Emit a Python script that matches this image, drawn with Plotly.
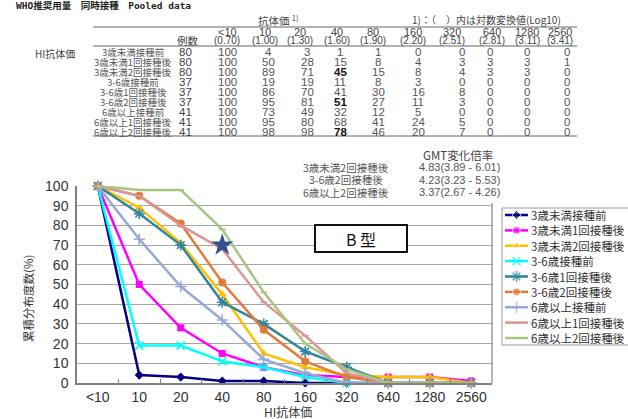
import plotly.graph_objects as go

# ---------------- data ----------------
categories = ["<10", "10", "20", "40", "80", "160", "320", "640", "1280", "2560"]
log_labels = ["(0.70)", "(1.00)", "(1.30)", "(1.60)", "(1.90)", "(2.20)", "(2.51)", "(2.81)", "(3.11)", "(3.41)"]
groups = ["3歳未満接種前", "3歳未満1回接種後", "3歳未満2回接種後",
          "3-6歳接種前", "3-6歳1回接種後", "3-6歳2回接種後",
          "6歳以上接種前", "6歳以上1回接種後", "6歳以上2回接種後"]
n_cases = [80, 80, 80, 37, 37, 37, 41, 41, 41]

u3_pre = [100, 4, 3, 1, 1, 0, 0, 0, 0, 0]
u3_1st = [100, 50, 28, 15, 8, 4, 3, 3, 3, 1]
u3_2nd = [100, 89, 71, 45, 15, 8, 4, 3, 3, 0]
a36_pre = [100, 19, 19, 11, 8, 3, 0, 0, 0, 0]
a36_1st = [100, 86, 70, 41, 30, 16, 8, 0, 0, 0]
a36_2nd = [100, 95, 81, 51, 27, 11, 3, 0, 0, 0]
o6_pre = [100, 73, 49, 32, 12, 5, 0, 0, 0, 0]
o6_1st = [100, 95, 80, 68, 41, 24, 5, 0, 0, 0]
o6_2nd = [100, 98, 98, 78, 46, 20, 7, 0, 0, 0]
series_values = [u3_pre, u3_1st, u3_2nd, a36_pre, a36_1st, a36_2nd, o6_pre, o6_1st, o6_2nd]

star_x = ["40"]
star_y = [70]

gmt_groups = ["3歳未満2回接種後", "3-6歳2回接種後", "6歳以上2回接種後"]
gmt_values = ["4.83(3.89 - 6.01)", "4.23(3.23 - 5.53)", "3.37(2.67 - 4.26)"]

# ---------------- styles ----------------
styles = [
    dict(color="#000080", symbol="diamond", size=7),
    dict(color="#FF00FF", symbol="square", size=7),
    dict(color="#FFC000", symbol="triangle-up", size=8),
    dict(color="#00FFFF", symbol="x-thin-open", size=8),
    dict(color="#31859C", symbol="asterisk-open", size=9),
    dict(color="#E07B39", symbol="circle", size=8),
    dict(color="#95A8D8", symbol="cross-thin-open", size=8),
    dict(color="#D99694", symbol="line-ew-open", size=5),
    dict(color="#A9C47F", symbol="line-ew-open", size=5),
]
bold_cells = {(2, 3), (5, 3), (8, 3)}  # (row, titer column index)

W, H = 628, 419
L, R, T, B = 77, 0, 186, 36
PW, PH = W - L - R, H - T - B


def PX(x):
    return (x - L) / PW


def PY(y):
    return (H - B - y) / PH


FONT = "Liberation Sans, Arial, Noto Sans CJK JP"
CJK = "Noto Sans CJK JP, Liberation Sans"

fig = go.Figure()

for name, vals, st in zip(groups, series_values, styles):
    mk = dict(color=st["color"], symbol=st["symbol"], size=st["size"])
    if st["symbol"].endswith("open"):
        mk["line"] = dict(color=st["color"], width=1.6)
    fig.add_trace(go.Scatter(x=categories, y=vals, name=name, mode="lines+markers",
                             line=dict(color=st["color"], width=2.5), marker=mk,
                             cliponaxis=False, showlegend=False))

fig.add_trace(go.Scatter(x=star_x, y=star_y, mode="markers", showlegend=False,
                         marker=dict(symbol="star", size=17, color="#34508F"),
                         cliponaxis=False))

# manual legend on a secondary axis
for i, (name, st) in enumerate(zip(groups, styles)):
    mk = dict(color=st["color"], symbol=st["symbol"], size=[0, st["size"], 0])
    if st["symbol"].endswith("open"):
        mk["line"] = dict(color=st["color"], width=1.6)
    fig.add_trace(go.Scatter(x=[3, 14.5, 26], y=[i, i, i], xaxis="x2", yaxis="y2",
                             mode="lines+markers", line=dict(color=st["color"], width=2.5),
                             marker=mk, showlegend=False, hoverinfo="skip"))

annotations = []


def ann(text, x, y, size, color="#444", xanchor="center", family=FONT, xref="paper", yref="paper", **kw):
    annotations.append(dict(text=text, x=x, y=y, xref=xref, yref=yref, xanchor=xanchor,
                            yanchor="middle", showarrow=False, borderpad=0,
                            font=dict(size=size, color=color, family=family), **kw))


for i, name in enumerate(groups):
    ann(name, 28, i, 11.5, "#333", xanchor="left", family=CJK, xref="x2", yref="y2")

# table
ann("<b>WHO推奨用量　同時接種　Pooled data</b>", PX(15), PY(6), 9.5, "#222", xanchor="left",
    family="DejaVu Sans Mono, Noto Sans CJK JP")
ann("抗体価 <sup>1)</sup>", PX(278), PY(20), 10.5, "#444", family=CJK)
ann("1)：（　）内は対数変換値(Log10)", PX(486), PY(20), 10, "#444", family=CJK)
ann("HI抗体価", PX(55), PY(53), 10, "#444", family=CJK)
ann("例数", PX(188), PY(40), 10.5, "#444", family=CJK)

head_x = [227, 265, 300, 337, 373, 413, 452, 492, 527, 560]
val_x = [227, 268, 307, 340, 378, 418, 462, 490, 527, 567]
for c, (cat, lg) in enumerate(zip(categories, log_labels)):
    ann(cat, PX(head_x[c]), PY(32), 11, "#444")
    ann(lg, PX(head_x[c]), PY(41), 10, "#444")

for r, (name, n, vals) in enumerate(zip(groups, n_cases, series_values)):
    yy = PY(52 + 10 * r)
    ann(name, PX(133), yy, 9.5, "#555", family=CJK)
    ann(str(n), PX(185), yy, 11.5, "#444")
    for c, v in enumerate(vals):
        if (r, c) in bold_cells:
            ann("<b>%d</b>" % v, PX(val_x[c]), yy, 11.5, "#111")
        else:
            ann(str(v), PX(val_x[c]), yy, 11.5, "#555")

# GMT block
ann("GMT変化倍率", PX(458), PY(155), 11.5, "#444", family=CJK)
for k, (g, v) in enumerate(zip(gmt_groups, gmt_values)):
    yy = PY(167 + 12.5 * k)
    ann(g, PX(346), yy, 10.5, "#555", family=CJK)
    ann(v, PX(418), yy, 11, "#555", xanchor="left")

# B type label
ann("B 型", PX(361), PY(238.5), 16, "#111", family=CJK)

# axis titles
ann("累積分布度数(%)", PX(28), PY(299), 11.5, "#333", family=CJK, textangle=-90)
ann("HI抗体価", PX(288), PY(411), 12, "#333", family=CJK)

shapes = []
line_gray = "#666"
for yline in (27, 46, 136):
    shapes.append(dict(type="line", xref="paper", yref="paper", x0=PX(93), x1=PX(577),
                       y0=PY(yline), y1=PY(yline), line=dict(color=line_gray, width=1)))
# cover gridline under GMT block
shapes.append(dict(type="rect", xref="paper", yref="paper", x0=PX(293), x1=PX(500),
                   y0=PY(195), y1=PY(178), fillcolor="white", line=dict(width=0), layer="between"))
# right border of plot area
shapes.append(dict(type="line", xref="paper", yref="paper", x0=PX(492), x1=PX(492),
                   y0=PY(383), y1=PY(203), line=dict(color="#808080", width=1.2)))
# B type box
shapes.append(dict(type="rect", xref="paper", yref="paper", x0=PX(315), x1=PX(407),
                   y0=PY(252), y1=PY(225), fillcolor="white", line=dict(color="#111", width=2)))
# legend box
shapes.append(dict(type="rect", xref="paper", yref="paper", x0=PX(502), x1=PX(635),
                   y0=PY(345), y1=PY(208), fillcolor="rgba(0,0,0,0)", line=dict(color="#999", width=1)))

fig.update_layout(
    width=W, height=H, margin=dict(l=L, r=R, t=T, b=B),
    paper_bgcolor="white", plot_bgcolor="white",
    font=dict(family=FONT, color="#333"),
    showlegend=False,
    xaxis=dict(domain=[0, PX(492)], type="category", range=[-0.5, 9.5],
               showline=True, linecolor="#808080", linewidth=1.5,
               ticks="inside", tickson="boundaries", ticklen=4, tickcolor="#808080",
               showgrid=False, tickfont=dict(size=14, color="#333")),
    yaxis=dict(range=[0, 100], tickvals=list(range(0, 101, 10)),
               showline=True, linecolor="#808080", linewidth=1.5,
               gridcolor="#A6A6A6", gridwidth=1.3, zeroline=False,
               tickfont=dict(size=14, color="#333"), ticks="", ticklabelstandoff=4),
    xaxis2=dict(domain=[PX(502), 1], range=[0, PW * (1 - PX(502))], anchor="y2",
                visible=False, fixedrange=True),
    yaxis2=dict(domain=[PY(345), PY(208)], range=[8.455, -0.455], anchor="x2",
                visible=False, fixedrange=True),
    annotations=annotations,
    shapes=shapes,
)

fig.write_html("out.html", config={"displayModeBar": False},
               post_script="document.body.style.margin='0';")
